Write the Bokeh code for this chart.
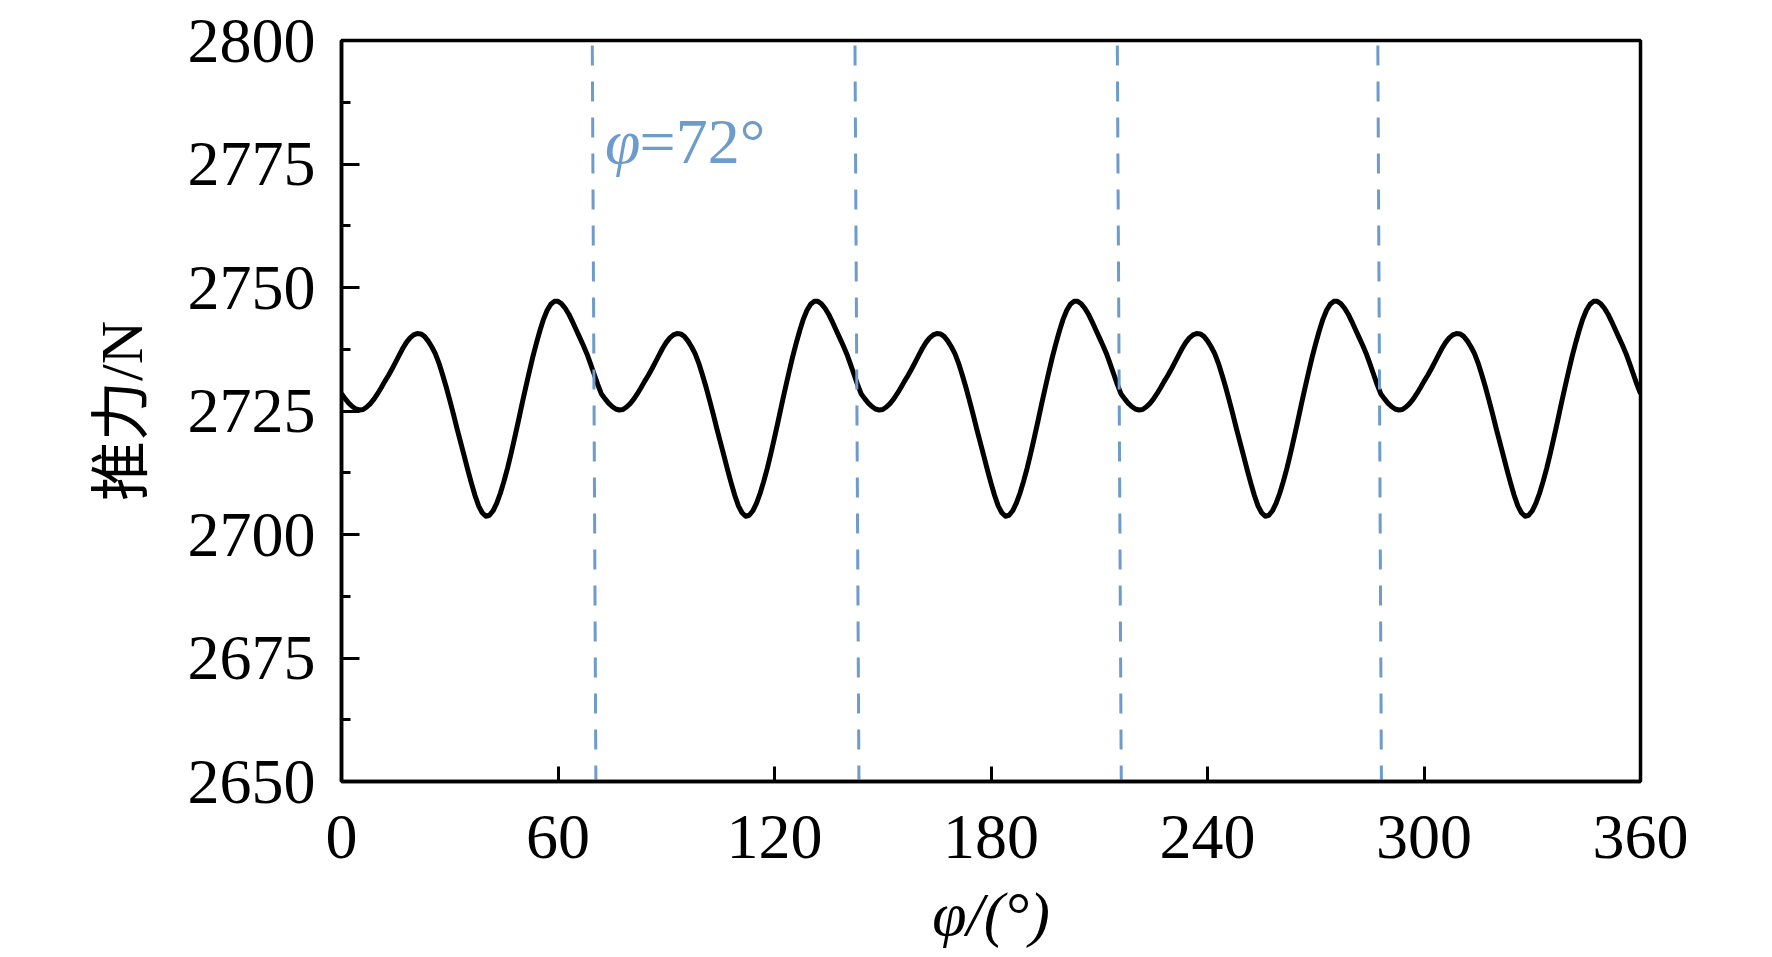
from bokeh.plotting import figure
from bokeh.models import Range1d, FixedTicker, Label, ColumnDataSource
from bokeh.embed import file_html
from bokeh.resources import INLINE

# ---------------- data ----------------
phi = list(range(0, 361))  # rotation angle, degrees (1 degree steps)
thrust = [
    # 0 - 71
    2728.5, 2727.5, 2726.6, 2725.9, 2725.4, 2725.2, 2725.3, 2725.8, 2726.5, 2727.4, 2728.5, 2729.7,
    2731.0, 2732.2, 2733.5, 2734.9, 2736.3, 2737.7, 2738.9, 2739.8, 2740.4, 2740.7, 2740.6, 2740.1,
    2739.2, 2738.0, 2736.6, 2734.7, 2732.4, 2729.9, 2727.2, 2724.4, 2721.5, 2718.7, 2715.9, 2713.1,
    2710.4, 2707.9, 2705.8, 2704.4, 2703.7, 2703.9, 2704.8, 2706.3, 2708.3, 2710.7, 2713.4, 2716.4,
    2719.6, 2722.9, 2726.3, 2729.6, 2732.8, 2735.9, 2738.7, 2741.3, 2743.6, 2745.4, 2746.6, 2747.2,
    2747.2, 2746.7, 2745.8, 2744.6, 2743.1, 2741.5, 2739.9, 2738.3, 2736.6, 2734.6, 2732.5, 2730.4,
    # 72 - 143
    2728.5, 2727.5, 2726.6, 2725.9, 2725.4, 2725.2, 2725.3, 2725.8, 2726.5, 2727.4, 2728.5, 2729.7,
    2731.0, 2732.2, 2733.5, 2734.9, 2736.3, 2737.7, 2738.9, 2739.8, 2740.4, 2740.7, 2740.6, 2740.1,
    2739.2, 2738.0, 2736.6, 2734.7, 2732.4, 2729.9, 2727.2, 2724.4, 2721.5, 2718.7, 2715.9, 2713.1,
    2710.4, 2707.9, 2705.8, 2704.4, 2703.7, 2703.9, 2704.8, 2706.3, 2708.3, 2710.7, 2713.4, 2716.4,
    2719.6, 2722.9, 2726.3, 2729.6, 2732.8, 2735.9, 2738.7, 2741.3, 2743.6, 2745.4, 2746.6, 2747.2,
    2747.2, 2746.7, 2745.8, 2744.6, 2743.1, 2741.5, 2739.9, 2738.3, 2736.6, 2734.6, 2732.5, 2730.4,
    # 144 - 215
    2728.5, 2727.5, 2726.6, 2725.9, 2725.4, 2725.2, 2725.3, 2725.8, 2726.5, 2727.4, 2728.5, 2729.7,
    2731.0, 2732.2, 2733.5, 2734.9, 2736.3, 2737.7, 2738.9, 2739.8, 2740.4, 2740.7, 2740.6, 2740.1,
    2739.2, 2738.0, 2736.6, 2734.7, 2732.4, 2729.9, 2727.2, 2724.4, 2721.5, 2718.7, 2715.9, 2713.1,
    2710.4, 2707.9, 2705.8, 2704.4, 2703.7, 2703.9, 2704.8, 2706.3, 2708.3, 2710.7, 2713.4, 2716.4,
    2719.6, 2722.9, 2726.3, 2729.6, 2732.8, 2735.9, 2738.7, 2741.3, 2743.6, 2745.4, 2746.6, 2747.2,
    2747.2, 2746.7, 2745.8, 2744.6, 2743.1, 2741.5, 2739.9, 2738.3, 2736.6, 2734.6, 2732.5, 2730.4,
    # 216 - 287
    2728.5, 2727.5, 2726.6, 2725.9, 2725.4, 2725.2, 2725.3, 2725.8, 2726.5, 2727.4, 2728.5, 2729.7,
    2731.0, 2732.2, 2733.5, 2734.9, 2736.3, 2737.7, 2738.9, 2739.8, 2740.4, 2740.7, 2740.6, 2740.1,
    2739.2, 2738.0, 2736.6, 2734.7, 2732.4, 2729.9, 2727.2, 2724.4, 2721.5, 2718.7, 2715.9, 2713.1,
    2710.4, 2707.9, 2705.8, 2704.4, 2703.7, 2703.9, 2704.8, 2706.3, 2708.3, 2710.7, 2713.4, 2716.4,
    2719.6, 2722.9, 2726.3, 2729.6, 2732.8, 2735.9, 2738.7, 2741.3, 2743.6, 2745.4, 2746.6, 2747.2,
    2747.2, 2746.7, 2745.8, 2744.6, 2743.1, 2741.5, 2739.9, 2738.3, 2736.6, 2734.6, 2732.5, 2730.4,
    # 288 - 359
    2728.5, 2727.5, 2726.6, 2725.9, 2725.4, 2725.2, 2725.3, 2725.8, 2726.5, 2727.4, 2728.5, 2729.7,
    2731.0, 2732.2, 2733.5, 2734.9, 2736.3, 2737.7, 2738.9, 2739.8, 2740.4, 2740.7, 2740.6, 2740.1,
    2739.2, 2738.0, 2736.6, 2734.7, 2732.4, 2729.9, 2727.2, 2724.4, 2721.5, 2718.7, 2715.9, 2713.1,
    2710.4, 2707.9, 2705.8, 2704.4, 2703.7, 2703.9, 2704.8, 2706.3, 2708.3, 2710.7, 2713.4, 2716.4,
    2719.6, 2722.9, 2726.3, 2729.6, 2732.8, 2735.9, 2738.7, 2741.3, 2743.6, 2745.4, 2746.6, 2747.2,
    2747.2, 2746.7, 2745.8, 2744.6, 2743.1, 2741.5, 2739.9, 2738.3, 2736.6, 2734.6, 2732.5, 2730.4,
    # 360
    2728.5,
]

x_ticks = [0, 60, 120, 180, 240, 300, 360]
y_ticks = [2650, 2675, 2700, 2725, 2750, 2775, 2800]
y_minor_ticks = [2662.5, 2687.5, 2712.5, 2737.5, 2762.5, 2787.5]

# period markers (dashed lines) - slightly slanted in the picture
marker_x_top = [69.5, 142.3, 215.0, 287.2]
marker_x_bottom = [70.5, 143.4, 216.1, 288.2]
marker_y_top = [2800, 2800, 2800, 2800]
marker_y_bottom = [2650, 2650, 2650, 2650]

annot_symbol = "φ"
annot_rest = "=72°"
annot_x = 73.0
annot_rest_x = 82.6
annot_y = 2779.5

x_label = "φ/(°)"
y_label = "推力/N"

# ---------------- styles ----------------
SERIF = "'Liberation Serif', 'Noto Sans CJK SC', serif"
BLUE = "#6d9bcb"
W, H = 1756, 950

p = figure(width=W, height=H, output_backend="svg", toolbar_location=None,
           x_range=Range1d(0, 360), y_range=Range1d(2650, 2800),
           min_border_left=341, min_border_right=116,
           min_border_top=40, min_border_bottom=168)

p.background_fill_color = "white"
p.border_fill_color = "white"
p.outline_line_color = "black"
p.outline_line_width = 3.5
p.xgrid.visible = False
p.ygrid.visible = False

# curve
src = ColumnDataSource(dict(phi=phi, thrust=thrust))
p.line("phi", "thrust", source=src, line_color="black", line_width=5,
       line_join="round")

# dashed markers
msrc = ColumnDataSource(dict(x0=marker_x_top, y0=marker_y_top,
                             x1=marker_x_bottom, y1=marker_y_bottom))
p.segment("x0", "y0", "x1", "y1", source=msrc, line_color=BLUE,
          line_width=3, line_dash="20 16", line_dash_offset=31)

# axes
xa = p.xaxis[0]
xa.ticker = FixedTicker(ticks=x_ticks, minor_ticks=[])
xa.axis_line_width = 3.5
xa.major_tick_line_width = 3
xa.major_tick_in = 15
xa.major_tick_out = 0
xa.minor_tick_in = 0
xa.minor_tick_out = 0
xa.major_label_text_font = SERIF
xa.major_label_text_font_size = "64px"
xa.major_label_text_color = "black"
xa.major_label_standoff = 34
xa.axis_label = x_label
xa.axis_label_text_font = SERIF
xa.axis_label_text_font_style = "italic"
xa.axis_label_text_font_size = "62px"
xa.axis_label_text_color = "black"
xa.axis_label_standoff = 19

ya = p.yaxis[0]
ya.ticker = FixedTicker(ticks=y_ticks, minor_ticks=y_minor_ticks)
ya.axis_line_width = 3.5
ya.major_tick_line_width = 3
ya.minor_tick_line_width = 3
ya.major_tick_in = 18
ya.major_tick_out = 0
ya.minor_tick_in = 9
ya.minor_tick_out = 0
ya.major_label_text_font = SERIF
ya.major_label_text_font_size = "64px"
ya.major_label_text_color = "black"
ya.major_label_standoff = 26
ya.axis_label = y_label
ya.axis_label_text_font = SERIF
ya.axis_label_text_font_style = "normal"
ya.axis_label_text_font_size = "60px"
ya.axis_label_text_color = "black"
ya.axis_label_standoff = 30

# annotation in the plot
p.add_layout(Label(x=annot_x, y=annot_y, text=annot_symbol, text_font=SERIF,
                   text_font_style="italic", text_font_size="64px",
                   text_color=BLUE, text_baseline="alphabetic", text_align="left"))
p.add_layout(Label(x=annot_rest_x, y=annot_y, text=annot_rest, text_font=SERIF,
                   text_font_size="64px", text_color=BLUE,
                   text_baseline="alphabetic", text_align="left"))

open("out.html", "w").write(file_html(p, INLINE))
